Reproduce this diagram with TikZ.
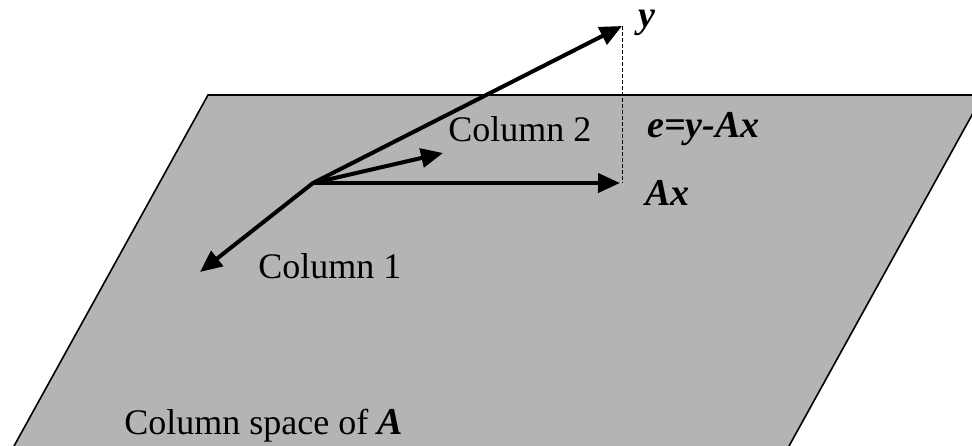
\documentclass[tikz,border=0pt]{standalone}
\usepackage{fontspec}
\setmainfont{Liberation Serif}
\usepackage{tikz}
\usetikzlibrary{arrows.meta,positioning}
\definecolor{PlaneGray}{HTML}{B4B4B4}

\begin{document}
\begin{tikzpicture}[x=0.5pt,y=-0.5pt,
  vec/.style={-{Triangle[length=11pt,width=9.5pt]},line width=2pt},
  label/.style={anchor=base west,inner sep=0pt,font=\fontsize{18}{20}\selectfont},
  mlabel/.style={label,font=\fontsize{19}{21}\selectfont\bfseries\itshape},
  proj/.style={dash pattern=on 2pt off 1pt,line width=0.5pt}
]
  \useasboundingbox (0,0) rectangle (972,445);
  \begin{scope}
    \clip (0,0) rectangle (972,445);
    \draw[fill=PlaneGray,line width=0.8pt] (208,95) -- (983,95) -- (773,475) -- (-2,475) -- cycle;
  \end{scope}
  \coordinate (origin) at (313,183);
  \coordinate (col1) at (200,272);
  \coordinate (col2) at (443,153);
  \coordinate (ax) at (620,183);
  \coordinate (yvec) at (622,26);
  \coordinate (foot) at (622,183);
  \draw[proj] (yvec) -- (foot);
  \draw[vec] (origin) -- (col1);
  \draw[vec] (origin) -- (col2);
  \draw[vec] (origin) -- (ax);
  \draw[vec] (origin) -- (yvec);
  \node[mlabel] (ylab) at (638,27) {y};
  \node[mlabel] (elab) at (647,137) {e=y-Ax};
  \node[mlabel] (axlab) at (645,205) {Ax};
  \node[label] (c2lab) at (448,141) {Column 2};
  \node[label] (c1lab) at (258,278) {Column 1};
  \node[label] (spacelab) at (124,434) {Column space of {\fontsize{19}{21}\selectfont\bfseries\itshape A}};
\end{tikzpicture}
\end{document}
